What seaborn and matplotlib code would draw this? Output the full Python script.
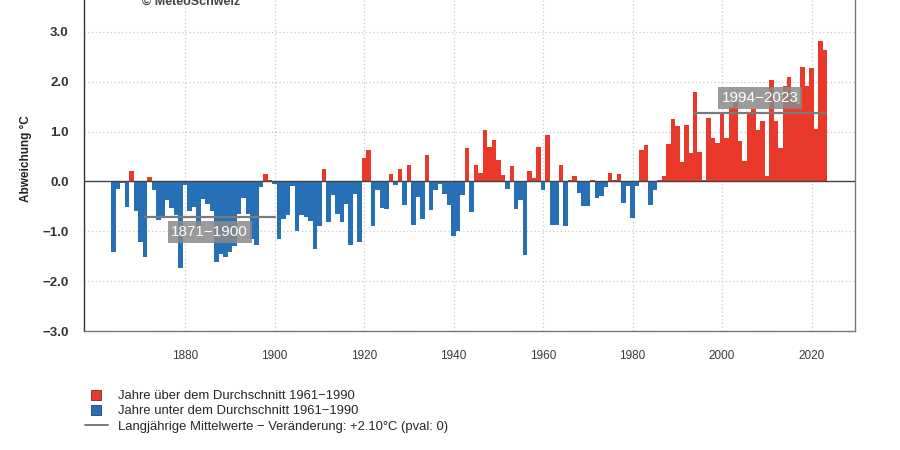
import matplotlib

matplotlib.use("Agg")

import matplotlib.pyplot as plt
import numpy as np
import pandas as pd
import seaborn as sns
from matplotlib.lines import Line2D

# Jahresmittel-Abweichung vom Durchschnitt 1961-1990 (°C), ab 1864
first_year = 1864
anomalies = [
    -1.42, -0.16, -0.04, -0.52, 0.21, -0.60,
    -1.22, -1.51, 0.09, -0.18, -0.78, -0.72, -0.38, -0.54, -0.68, -1.73,
    -0.08, -0.60, -0.52, -0.95, -0.35, -0.45, -0.60, -1.62, -1.45, -1.52,
    -1.42, -1.30, -0.65, -0.33, -0.65, -1.15, -1.28, -0.12, 0.15, 0.03,
    -0.06, -1.15, -0.75, -0.68, -0.10, -0.99, -0.68, -0.72, -0.80, -1.36,
    -0.89, 0.25, -0.82, -0.28, -0.65, -0.81, -0.45, -1.28, -0.26, -1.22,
    0.47, 0.63, -0.89, -0.18, -0.53, -0.55, 0.15, -0.07, 0.25, -0.47,
    0.33, -0.88, -0.31, -0.75, 0.54, -0.57, -0.18, -0.06, -0.25, -0.48,
    -1.10, -1.00, -0.28, 0.67, -0.62, 0.33, 0.16, 1.03, 0.70, 0.83,
    0.43, 0.13, -0.16, 0.31, -0.55, -0.38, -1.48, 0.21, 0.06, 0.69,
    -0.17, 0.94, -0.88, -0.88, 0.34, -0.90, 0.03, 0.10, -0.24, -0.50,
    -0.50, 0.03, -0.34, -0.30, -0.12, 0.16, 0.03, 0.15, -0.43, -0.10,
    -0.73, -0.09, 0.63, 0.74, -0.47, -0.18, 0.03, 0.10, 0.76, 1.26,
    1.11, 0.40, 1.14, 0.58, 1.79, 0.60, 0.02, 1.27, 0.87, 0.78,
    1.37, 0.87, 1.50, 1.60, 0.82, 0.41, 1.36, 1.46, 1.04, 1.22,
    0.11, 2.04, 1.22, 0.68, 1.92, 2.09, 1.60, 1.55, 2.30, 1.91,
    2.27, 1.06, 2.82, 2.64,
]
years = list(range(first_year, first_year + len(anomalies)))

periods = [(1871, 1900), (1994, 2023)]
x_ticks = [1880, 1900, 1920, 1940, 1960, 1980, 2000, 2020]
y_ticks = [-3.0, -2.0, -1.0, 0.0, 1.0, 2.0, 3.0]
legend_labels = [
    "Jahre über dem Durchschnitt 1961\u22121990",
    "Jahre unter dem Durchschnitt 1961\u22121990",
    "Langjährige Mittelwerte \u2212 Veränderung: +2.10°C (pval: 0)",
]

RED = "#e8392a"
BLUE = "#2870b5"
GRID = "#c8c8c8"

df = pd.DataFrame({"year": years, "anomaly": anomalies})
df["side"] = np.where(df["anomaly"] >= 0, "over", "under")

sns.set_style("white")
plt.rcParams["font.family"] = ["Liberation Sans", "DejaVu Sans"]

fig = plt.figure(figsize=(9, 4.5), dpi=100)
ax = fig.add_axes([84 / 900, 1 - 331 / 450, 771 / 900, 331 / 450])

# Gitter hinter den Balken
for x in x_ticks:
    ax.axvline(x, color=GRID, linestyle=(0, (1, 2)), linewidth=0.9, zorder=0)
for y in y_ticks:
    ax.axhline(y, color=GRID, linestyle=(0, (1, 2)), linewidth=0.9, zorder=0)

sns.barplot(
    data=df,
    x="year",
    y="anomaly",
    hue="side",
    palette={"over": RED, "under": BLUE},
    native_scale=True,
    width=1.0,
    dodge=False,
    saturation=1,
    linewidth=0,
    legend=False,
    ax=ax,
    zorder=2,
)

ax.axhline(0, color="#444444", linewidth=1.0, zorder=3)

# Mittelwerte der Perioden
for start, end in periods:
    sel = df[(df["year"] >= start) & (df["year"] <= end)]
    mean = sel["anomaly"].mean()
    ax.plot([start, end], [mean, mean], color="#7a7a7a", linewidth=1.6, zorder=4)
    offset = 0.3 if mean > 0 else -0.3
    ax.text(
        (start + end) / 2,
        mean + offset,
        f"{start}\u2212{end}",
        ha="center",
        va="center",
        color="white",
        fontsize=11,
        zorder=5,
        bbox=dict(boxstyle="square,pad=0.25", fc="#8a8a8a", ec="none", alpha=0.85),
    )

ax.set_xlim(1857.4, 2029.7)
ax.set_ylim(-3.0, 3.64)
ax.set_xticks(x_ticks)
ax.set_xticklabels([str(x) for x in x_ticks], fontsize=8.5, color="#3a3a3a")
ax.set_yticks(y_ticks)
ax.set_yticklabels([f"{y:.1f}".replace("-", "\u2212") for y in y_ticks],
                   fontsize=9.5, fontweight="bold", color="#333333")
ax.tick_params(axis="x", length=6, width=0.9, color="#555555", pad=8)
ax.tick_params(axis="y", length=6, width=0.9, color="#555555", pad=5)
ax.set_xlabel("")
ax.set_ylabel("Abweichung °C", fontsize=8.5, fontweight="bold", color="#222222")
ax.yaxis.set_label_coords(-0.068, 0.52)

for name in ["left", "right", "bottom"]:
    ax.spines[name].set_visible(True)
    ax.spines[name].set_linewidth(1.0)
ax.spines["left"].set_color("#333333")
ax.spines["right"].set_color("#777777")
ax.spines["bottom"].set_color("#777777")
ax.spines["top"].set_visible(False)

# Quellenvermerk, oben am Bildrand angeschnitten wie im Original
fig.text(142 / 900, 1 - 5 / 450, "© MeteoSchweiz", fontsize=9, fontweight="bold",
         color="#444444", va="baseline")

handles = [
    Line2D([], [], marker="s", linestyle="none", markersize=7,
           markerfacecolor=RED, markeredgecolor="#7a2a20", markeredgewidth=0.6),
    Line2D([], [], marker="s", linestyle="none", markersize=7,
           markerfacecolor=BLUE, markeredgecolor="#1d3f66", markeredgewidth=0.6),
    Line2D([], [], color="#7a7a7a", linewidth=1.4),
]
fig.legend(
    handles,
    legend_labels,
    loc="upper left",
    bbox_to_anchor=(85 / 900, 1 - 390 / 450),
    frameon=False,
    fontsize=9.4,
    handlelength=1.75,
    handletextpad=0.75,
    labelspacing=0.24,
    borderpad=0,
    borderaxespad=0,
)

fig.savefig("out.png", dpi=100)
plt.close(fig)
